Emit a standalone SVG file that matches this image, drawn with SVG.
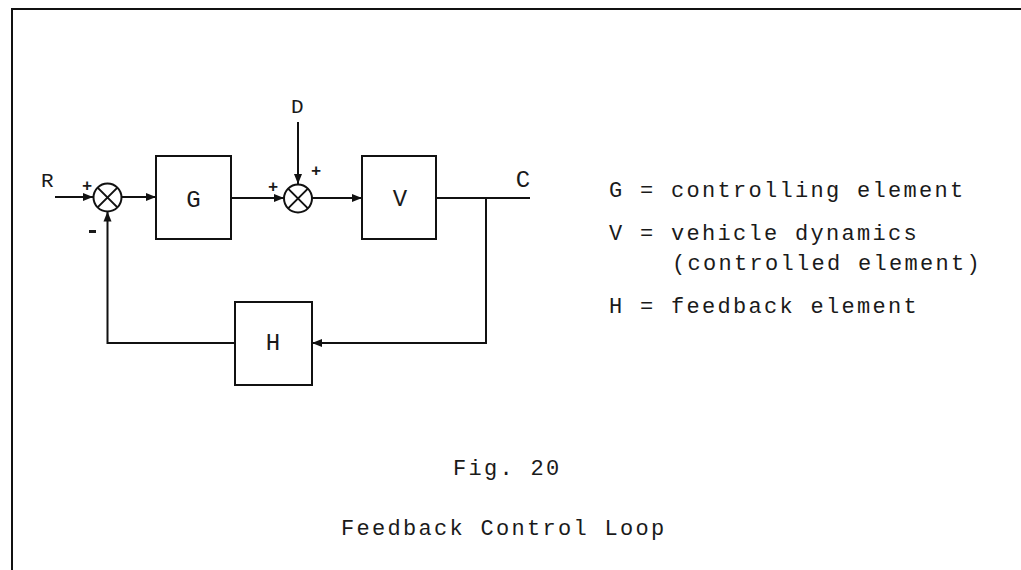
<svg xmlns="http://www.w3.org/2000/svg" width="1021" height="570" viewBox="0 0 1021 570">
<defs>
<marker id="arr" viewBox="0 0 10 10" refX="10" refY="5" markerWidth="5" markerHeight="5" markerUnits="strokeWidth" orient="auto">
<path d="M0,1 L10,5 L0,9 z" fill="#111"/>
</marker>
<style>
.ln{stroke:#111;stroke-width:2;fill:none}
.box{stroke:#111;stroke-width:2;fill:#fff}
.lbl{font-family:"Liberation Mono","DejaVu Sans Mono",monospace;fill:#1a1a1a}
.big{font-size:24px;text-anchor:middle}
.sgn{font-size:17px;font-weight:bold;text-anchor:middle}
.txt{font-size:22px;letter-spacing:2.3px}
</style>
</defs>
<rect x="0" y="0" width="1021" height="570" fill="#fff"/>
<path class="ln" d="M12,580 L12,9 L1030,9" stroke-width="2.5"/>
<g id="connectors">
<line class="ln" x1="55" y1="197" x2="93" y2="197" marker-end="url(#arr)"/>
<line class="ln" x1="122" y1="197" x2="156" y2="197" marker-end="url(#arr)"/>
<line class="ln" x1="231" y1="198" x2="284" y2="198" marker-end="url(#arr)"/>
<line class="ln" x1="298" y1="122" x2="298" y2="184" marker-end="url(#arr)"/>
<line class="ln" x1="312" y1="198" x2="362" y2="198" marker-end="url(#arr)"/>
<line class="ln" x1="436" y1="198" x2="530" y2="198"/>
<polyline class="ln" points="486,198 486,343 312,343" marker-end="url(#arr)"/>
<polyline class="ln" points="235,343 107.5,343 107.5,211.5" marker-end="url(#arr)"/>
</g>
<g id="sum1">
<circle class="box" cx="107.5" cy="197.5" r="14"/>
<path class="ln" d="M97.6,187.6 L117.4,207.4 M117.4,187.6 L97.6,207.4"/>
</g>
<g id="sum2">
<circle class="box" cx="298" cy="198.5" r="14"/>
<path class="ln" d="M288.1,188.6 L307.9,208.4 M307.9,188.6 L288.1,208.4"/>
</g>
<g id="G"><rect class="box" x="156" y="156" width="75" height="83"/><text class="lbl big" x="193.5" y="207">G</text></g>
<g id="V"><rect class="box" x="362" y="156" width="74" height="83"/><text class="lbl big" x="400" y="206">V</text></g>
<g id="H"><rect class="box" x="235" y="302" width="77" height="83"/><text class="lbl big" x="273" y="350">H</text></g>
<g id="labels">
<text class="lbl" x="41" y="187" font-size="21">R</text>
<text class="lbl" x="291" y="113" font-size="21">D</text>
<text class="lbl big" x="523" y="187">C</text>
<text class="lbl sgn" x="87" y="191">+</text>
<rect x="89" y="230" width="7" height="3" fill="#1a1a1a"/>
<text class="lbl sgn" x="273" y="192">+</text>
<text class="lbl sgn" x="316" y="176">+</text>
</g>
<g id="legend">
<text class="lbl txt" x="609" y="197">G = controlling element</text>
<text class="lbl txt" x="609" y="240">V = vehicle dynamics</text>
<text class="lbl txt" x="672" y="270">(controlled element)</text>
<text class="lbl txt" x="609" y="313">H = feedback element</text>
<text class="lbl txt" x="453" y="475">Fig. 20</text>
<text class="lbl txt" x="341" y="535">Feedback Control Loop</text>
</g>
</svg>
